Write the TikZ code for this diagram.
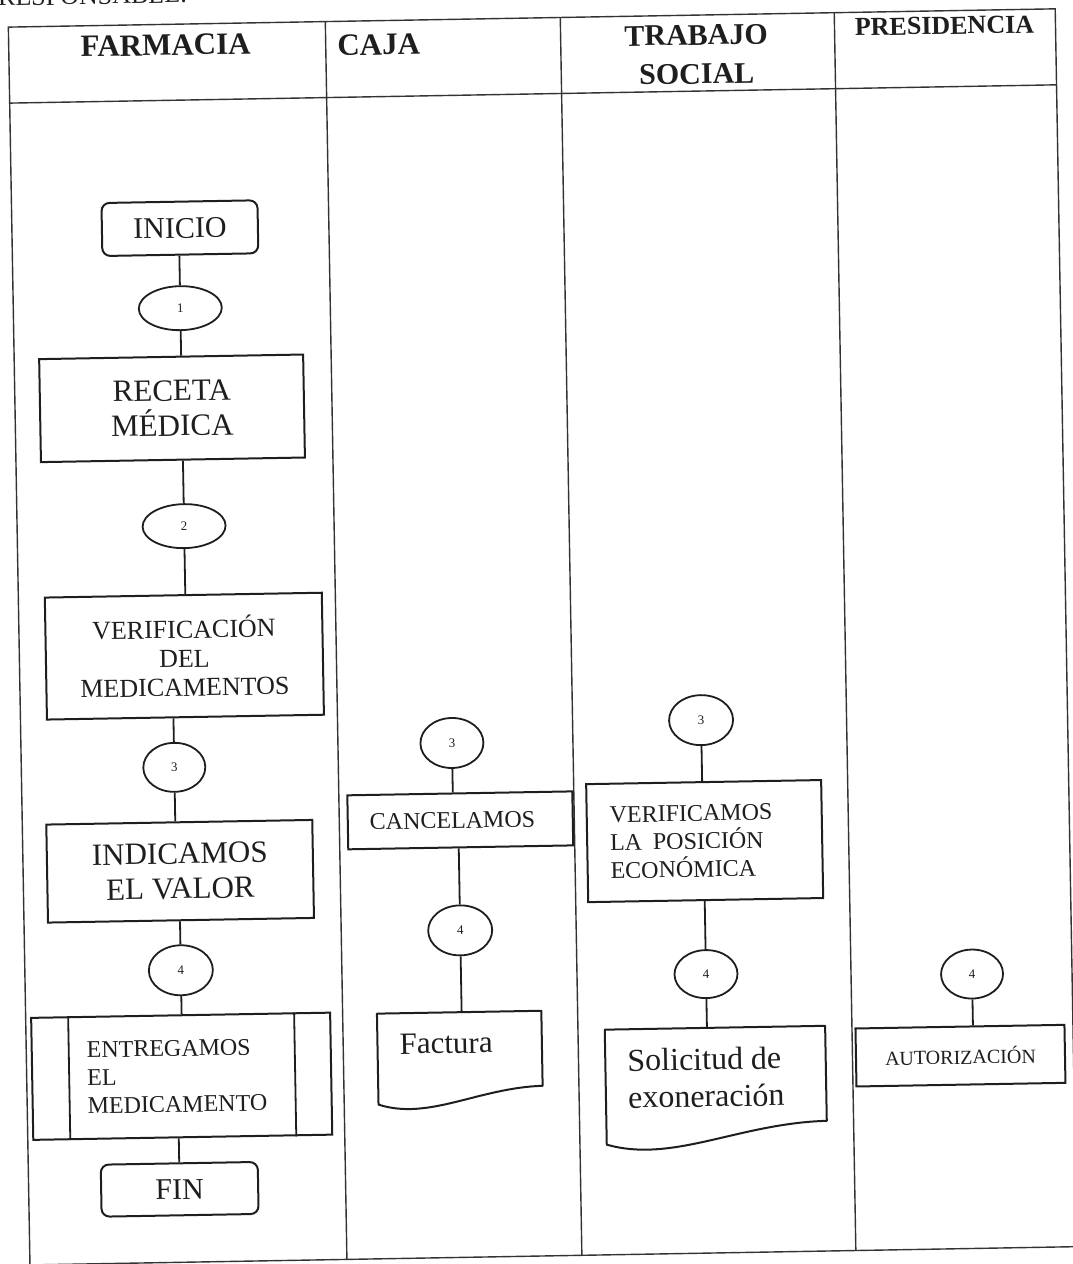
\documentclass[tikz,border=0pt]{standalone}
\usepackage{fontspec}
\setmainfont{Liberation Serif}
\usetikzlibrary{shapes.geometric,calc}
\definecolor{ink}{HTML}{1E1E1E}
\definecolor{rulec}{HTML}{333333}
\newcommand{\fs}[2]{\fontsize{#1}{#2}\selectfont}
\begin{document}
\begin{tikzpicture}[x=1pt,y=-1pt,
  every node/.style={text=ink},
  box/.style={draw=ink, line width=2pt, rectangle, inner sep=0pt},
  term/.style={box, rounded corners=8pt},
  oval/.style={ellipse, draw=ink, line width=1.8pt, inner sep=0pt, font=\fs{13}{15}},
  link/.style={draw=ink, line width=1.8pt},
  grid/.style={draw=rulec, line width=1.4pt},
  hdr/.style={font=\bfseries\fs{31}{39}, align=center, inner sep=0pt},
  plain/.style={inner sep=0pt},
  docline/.style={draw=ink, line width=2pt, line join=round}]
\useasboundingbox (10.95,-9.45) rectangle (1082.95,1254.55);
\begin{scope}[rotate=1, transform shape]
% table
\draw[grid] (19,18) rectangle (1066,1256);
\draw[grid] (19,94) -- (1066,94);
\foreach \xx in {336,571,845} \draw[grid] (\xx,18) -- (\xx,1256);
\node[plain, anchor=base west, font=\fs{26}{30}] (resp) at (9,-3.4) {RESPONSABLE:};
% headers
\node[hdr] (hfar) at (176,39) {FARMACIA};
\node[hdr] (hcaj) at (389,42) {CAJA};
\node[hdr, font=\bfseries\fs{30}{39}] (htra) at (706.5,57.5) {TRABAJO\\SOCIAL};
\node[hdr, font=\bfseries\fs{26}{30}] (hpre) at (955,33) {PRESIDENCIA};
% FARMACIA
\node[term, minimum width=156pt, minimum height=53pt, font=\fs{30}{36}] (inicio) at (187,222) {INICIO};
\node[oval, minimum width=83pt, minimum height=44pt] (e1) at (186,302) {1};
\node[box, minimum width=264pt, minimum height=103pt, font=\fs{31}{35}, align=center] (receta) at (176,402) {RECETA\\MÉDICA};
\node[oval, minimum width=83pt, minimum height=44pt] (e2) at (186,520) {2};
\node[box, minimum width=277pt, minimum height=122pt, font=\fs{26}{29}, align=center] (verif) at (184,650) {VERIFICACIÓN\\DEL\\MEDICAMENTOS};
\node[oval, minimum width=62pt, minimum height=49pt] (e3f) at (172,761) {3};
\node[box, minimum width=266pt, minimum height=98pt, font=\fs{31}{35}, align=center] (indic) at (176,865) {INDICAMOS\\EL VALOR};
\node[oval, minimum width=64pt, minimum height=50pt] (e4f) at (175,964) {4};
\node[box, minimum width=299pt, minimum height=122pt, font=\fs{24}{28}, text width=189pt, align=left] (entreg) at (174,1070) {ENTREGAMOS\\EL\\MEDICAMENTO};
\draw[link] ($(entreg.north west)+(38,0)$) -- ($(entreg.south west)+(38,0)$);
\draw[link] ($(entreg.north east)+(-37,0)$) -- ($(entreg.south east)+(-37,0)$);
\node[term, minimum width=157pt, minimum height=52pt, font=\fs{30}{36}] (fin) at (170,1183) {FIN};
\draw[link] (e1.north) -- (e1.north |- inicio.south);
\draw[link] (e1.south) -- (e1.south |- receta.north);
\draw[link] (e2.north) -- (e2.north |- receta.south);
\draw[link] (e2.south) -- (e2.south |- verif.north);
\draw[link] (e3f.north) -- (e3f.north |- verif.south);
\draw[link] (e3f.south) -- (e3f.south |- indic.north);
\draw[link] (e4f.north) -- (e4f.north |- indic.south);
\draw[link] (e4f.south) -- (e4f.south |- entreg.north);
\draw[link] (fin.north) -- (fin.north |- entreg.south);
% CAJA
\node[oval, minimum width=63pt, minimum height=50pt] (e3c) at (450,741.5) {3};
\node[box, minimum width=225pt, minimum height=54pt, font=\fs{24}{28}, text width=181pt, align=left] (cancel) at (457,819) {CANCELAMOS};
\node[oval, minimum width=64pt, minimum height=50pt] (e4c) at (455,929) {4};
\node[plain, minimum width=164pt, minimum height=96pt] (fac) at (452.5,1059) {};
\draw[docline] (fac.north west) -- (fac.north east) -- ($(fac.north east)+(0,75)$) .. controls ($(fac.north west)+(100,76)$) and ($(fac.north west)+(50,108)$) .. ($(fac.north west)+(0,91)$) -- cycle;
\node[plain, anchor=base west, font=\fs{31}{36}] (factxt) at ($(fac.north west)+(22,41)$) {Factura};
\draw[link] (e3c.south) -- (e3c.south |- cancel.north);
\draw[link] (e4c.north) -- (e4c.north |- cancel.south);
\draw[link] (e4c.south) -- (e4c.south |- fac.north);
% TRABAJO SOCIAL
\node[oval, minimum width=64pt, minimum height=50pt] (e3t) at (699.5,723) {3};
\node[box, minimum width=235pt, minimum height=118pt, font=\fs{24}{28}, text width=189pt, align=left] (verc) at (701,844) {VERIFICAMOS\\LA\hspace{0.45em}POSICIÓN\\ECONÓMICA};
\node[oval, minimum width=63pt, minimum height=48pt] (e4t) at (700,977) {4};
\node[plain, minimum width=220pt, minimum height=122pt] (sol) at (708,1092) {};
\draw[docline] (sol.north west) -- (sol.north east) -- ($(sol.north east)+(0,95)$) .. controls ($(sol.north west)+(132,96)$) and ($(sol.north west)+(66,135)$) .. ($(sol.north west)+(0,115)$) -- cycle;
\node[plain, anchor=west, align=left, font=\fs{32}{37}] (soltxt) at ($(sol.north west)+(22,49.5)$) {Solicitud de\\exoneración};
\draw[link] (e3t.south) -- (e3t.south |- verc.north);
\draw[link] (e4t.north) -- (e4t.north |- verc.south);
\draw[link] (e4t.south) -- (e4t.south |- sol.north);
% PRESIDENCIA
\node[oval, minimum width=62pt, minimum height=49pt] (e4p) at (966,981.6) {4};
\node[box, minimum width=209pt, minimum height=58pt, font=\fs{20}{24}] (autor) at (953,1063) {AUTORIZACIÓN};
\draw[link] (e4p.south) -- (e4p.south |- autor.north);
\end{scope}
\end{tikzpicture}
\end{document}
